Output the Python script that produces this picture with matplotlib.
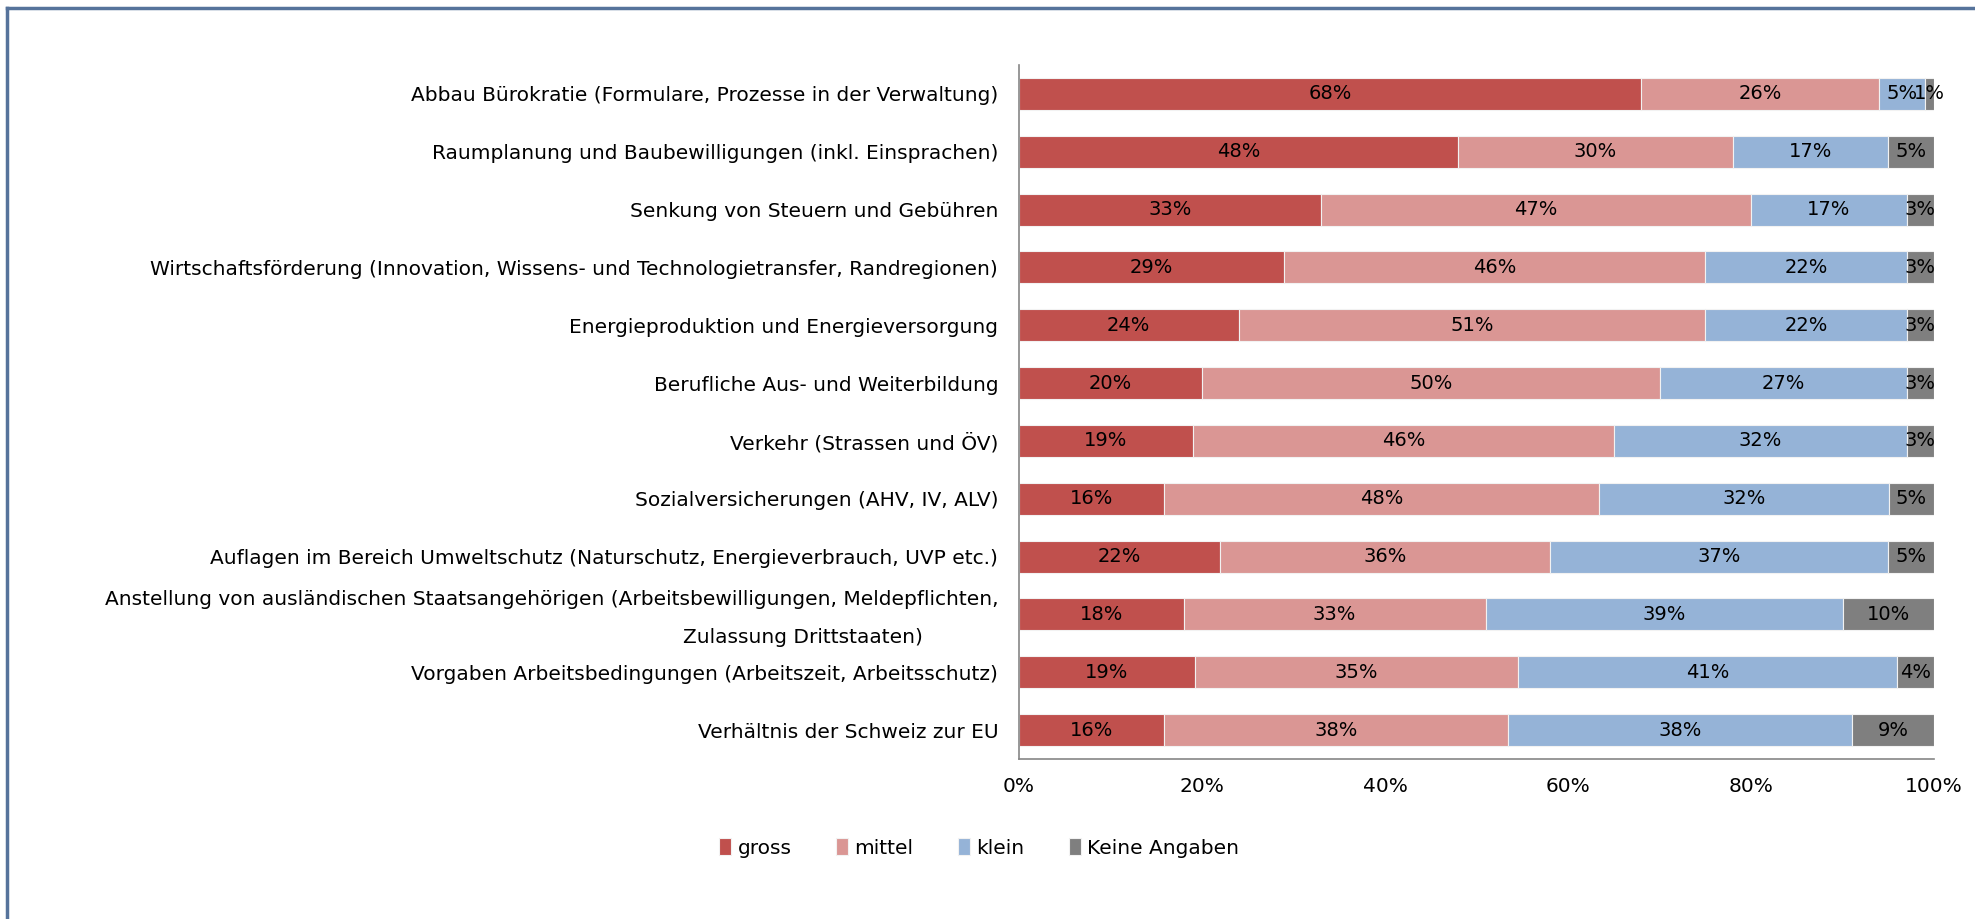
import numpy as np
import matplotlib.pyplot as plt
from matplotlib.lines import Line2D
from matplotlib.transforms import offset_copy

plt.rcParams['font.family'] = ['DejaVu Sans']

kategorien = [
    'Abbau Bürokratie (Formulare, Prozesse in der Verwaltung)',
    'Raumplanung und Baubewilligungen (inkl. Einsprachen)',
    'Senkung von Steuern und Gebühren',
    'Wirtschaftsförderung (Innovation, Wissens- und Technologietransfer, Randregionen)',
    'Energieproduktion und Energieversorgung',
    'Berufliche Aus- und Weiterbildung',
    'Verkehr (Strassen und ÖV)',
    'Sozialversicherungen (AHV, IV, ALV)',
    'Auflagen im Bereich Umweltschutz (Naturschutz, Energieverbrauch, UVP etc.)',
    'Anstellung von ausländischen Staatsangehörigen (Arbeitsbewilligungen, Meldepflichten,\nZulassung Drittstaaten)',
    'Vorgaben Arbeitsbedingungen (Arbeitszeit, Arbeitsschutz)',
    'Verhältnis der Schweiz zur EU',
]

gross = [68, 48, 33, 29, 24, 20, 19, 16, 22, 18, 19, 16]
mittel = [26, 30, 47, 46, 51, 50, 46, 48, 36, 33, 35, 38]
klein = [5, 17, 17, 22, 22, 27, 32, 32, 37, 39, 41, 38]
keine = [1, 5, 3, 3, 3, 3, 3, 5, 5, 10, 4, 9]

serien = ['gross', 'mittel', 'klein', 'Keine Angaben']
farben = ['#C0504D', '#DA9694', '#95B3D7', '#7F7F7F']

werte = np.array([gross, mittel, klein, keine], dtype=float)
anteile = werte / werte.sum(axis=0) * 100  # 100% gestapelt

fs = 14.5

fig = plt.figure(figsize=(19.75, 9.19), dpi=100)
ax = fig.add_axes([1019/1975, 1 - 759/919, (1934 - 1019)/1975, (759 - 65)/919])

y = np.arange(len(kategorien))
links = np.zeros(len(kategorien))
for i in range(4):
    bars = ax.barh(y, anteile[i], left=links, height=0.553, color=farben[i],
                   edgecolor='#f2f2f2', linewidth=0.8, label=serien[i])
    for j, b in enumerate(bars):
        ax.text(links[j] + anteile[i][j] / 2, y[j], f'{int(werte[i][j])}%',
                ha='center', va='center', fontsize=14, color='black')
    links += anteile[i]

ax.set_ylim(len(kategorien) - 0.5, -0.5)
ax.set_xlim(0, 100)
ax.set_yticks(y)
# zweizeilige Beschriftung separat zeichnen (zweite Zeile zentriert wie im Original)
ax.set_yticklabels(['' if '\n' in k else k for k in kategorien], fontsize=fs)
ax.set_xticks([0, 20, 40, 60, 80, 100])
ax.set_xticklabels(['0%', '20%', '40%', '60%', '80%', '100%'], fontsize=fs)
ax.tick_params(axis='both', length=0)
ax.tick_params(axis='y', pad=15)
ax.tick_params(axis='x', pad=13)

ytr = ax.get_yaxis_transform()
for j, k in enumerate(kategorien):
    if '\n' in k:
        z1, z2 = k.split('\n')
        ax.text(-20 / 915, j, z1, transform=offset_copy(ytr, fig=fig, y=15, units='dots'),
                ha='right', va='center', fontsize=fs)
        ax.text(-216 / 915, j, z2, transform=offset_copy(ytr, fig=fig, y=-23, units='dots'),
                ha='center', va='center', fontsize=fs)

for s in ['top', 'right']:
    ax.spines[s].set_visible(False)
for s in ['left', 'bottom']:
    ax.spines[s].set_color('#868686')
    ax.spines[s].set_linewidth(1.2)

fig.legend(loc='center', bbox_to_anchor=(979/1975, 1 - 848/919), ncol=4,
           frameon=False, fontsize=fs, handlelength=0.62, handleheight=0.85,
           handletextpad=0.3, columnspacing=2.2)

# Rahmen oben und links
rand = '#56739b'
fig.add_artist(Line2D([7/1975, 7/1975], [0, 1 - 8/919], transform=fig.transFigure,
                      color=rand, linewidth=2.5))
fig.add_artist(Line2D([7/1975, 1], [1 - 8/919, 1 - 8/919], transform=fig.transFigure,
                      color=rand, linewidth=2.5))

fig.savefig('out.png', dpi=100)
